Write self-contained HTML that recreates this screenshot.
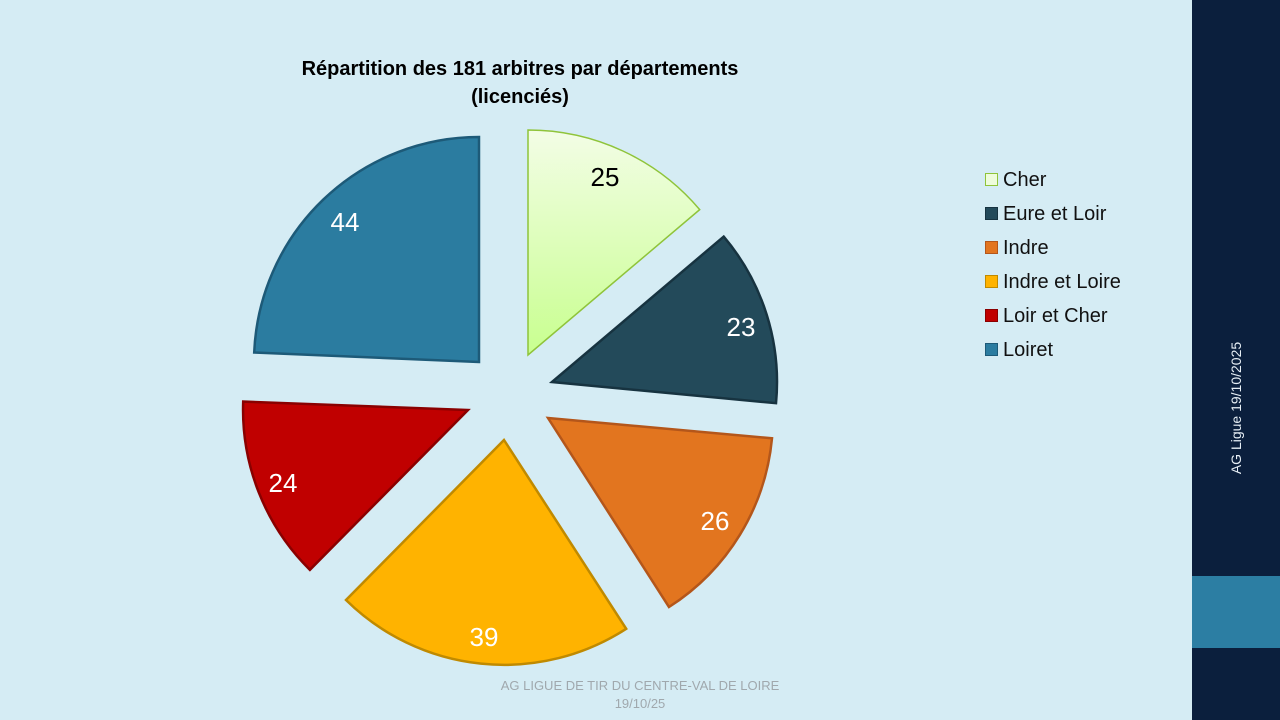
<!DOCTYPE html>
<html><head><meta charset="utf-8"><style>
body{margin:0;width:1280px;height:720px;overflow:hidden;background:#d5ecf4;font-family:"Liberation Sans",sans-serif;position:relative}
.bar{position:absolute;left:1192px;top:0;width:88px;height:720px;background:#0b1f3d}
.acc{position:absolute;left:1192px;top:576px;width:88px;height:72px;background:#2c7ea3}
.vt{position:absolute;left:1236px;top:408px;transform:translate(-50%,-50%) rotate(-90deg);color:#e6eef5;font-size:14px;white-space:nowrap}
.title{position:absolute;left:220px;width:600px;top:55px;text-align:center;font-weight:bold;font-size:20px;line-height:28px;color:#000}
.foot{position:absolute;left:440px;width:400px;top:677px;text-align:center;color:#a0a8ad;font-size:13px;line-height:18px}
.leg{position:absolute;left:985px;font-size:20px;color:#111}
.leg div{height:34px;line-height:34px;position:relative;padding-left:18px}
.leg span{position:absolute;left:0;top:10px;width:11px;height:11px;border:1.5px solid}
</style></head><body>
<svg width="1192" height="720" style="position:absolute;left:0;top:0">
<defs><linearGradient id="g" x1="0" y1="0" x2="0" y2="1"><stop offset="0" stop-color="#f3fde6"/><stop offset="1" stop-color="#c8ff8f"/></linearGradient></defs>
<g stroke-width="2.5">
<path d="M528,355 L528,130 A225,225 0 0 1 699.7,209.6 Z" fill="url(#g)" stroke="#8fc43a" stroke-width="1.5"/>
<path d="M552,382 L723.7,236.6 A225,225 0 0 1 776,403.2 Z" fill="#234a5a" stroke="#173340"/>
<path d="M548,418 L772,438.3 A225,225 0 0 1 669,607 Z" fill="#e2751f" stroke="#b4561a"/>
<path d="M504,440 L626.2,628.8 A225,225 0 0 1 346,600 Z" fill="#ffb300" stroke="#c08a00"/>
<path d="M468,410 L309.9,569.8 A225,225 0 0 1 243.2,401.6 Z" fill="#c00000" stroke="#8a0000"/>
<path d="M479,362 L254.2,352.5 A225,225 0 0 1 479,137 Z" fill="#2b7ca0" stroke="#1d5a78"/>
</g>
<g font-size="26" text-anchor="middle" fill="#fff">
<text x="605" y="186" fill="#000">25</text>
<text x="741" y="336">23</text>
<text x="715" y="530">26</text>
<text x="484" y="646">39</text>
<text x="283" y="492">24</text>
<text x="345" y="231">44</text>
</g>
</svg>
<div class="title">Répartition des 181 arbitres par départements<br>(licenciés)</div>
<div class="leg" style="top:163px">
<div><span style="background:#eefcdc;border-color:#8fc43a"></span>Cher</div>
<div><span style="background:#234a5a;border-color:#173340"></span>Eure et Loir</div>
<div><span style="background:#e2751f;border-color:#b4561a"></span>Indre</div>
<div><span style="background:#ffb300;border-color:#c08a00"></span>Indre et Loire</div>
<div><span style="background:#c00000;border-color:#8a0000"></span>Loir et Cher</div>
<div><span style="background:#2b7ca0;border-color:#1d5a78"></span>Loiret</div>
</div>
<div class="foot">AG LIGUE DE TIR DU CENTRE-VAL DE LOIRE<br>19/10/25</div>
<div class="bar"></div><div class="acc"></div>
<div class="vt">AG Ligue 19/10/2025</div>
</body></html>
